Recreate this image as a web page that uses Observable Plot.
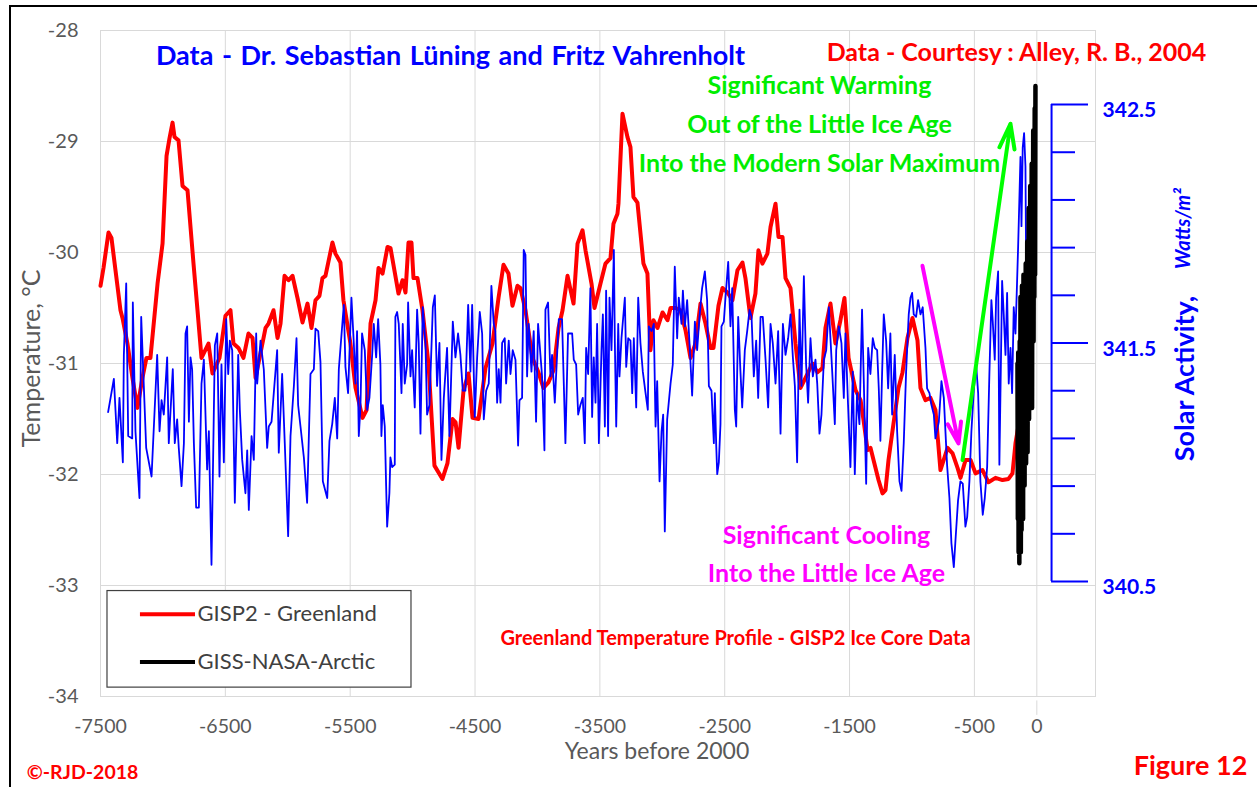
<!DOCTYPE html>
<html><head><meta charset="utf-8">
<script src="https://cdn.jsdelivr.net/npm/d3@7"></script>
<script src="https://cdn.jsdelivr.net/npm/@observablehq/plot@0.6"></script>
<style>
body{margin:0;background:#fff;}
#wrap{position:relative;width:1257px;height:787px;overflow:hidden;background:#fff;}
#wrap svg{position:absolute;left:0;top:0;}
#border{position:absolute;left:9px;top:5px;width:1400px;height:900px;border:2px solid #000;pointer-events:none;}
</style></head><body><div id="wrap"><div id="border"></div></div>
<script>
// GISP2 Greenland temperature (year before 2000, °C)
const gisp2 = [[-7500,-30.30],[-7476,-30.14],[-7436,-29.82],[-7412,-29.87],[-7380,-30.16],[-7340,-30.52],[-7324,-30.59],[-7284,-30.82],[-7244,-31.13],[-7204,-31.40],[-7164,-31.13],[-7132,-30.95],[-7100,-30.95],[-7043,-30.28],[-7003,-29.92],[-6971,-29.13],[-6947,-28.97],[-6923,-28.83],[-6907,-28.96],[-6875,-28.99],[-6843,-29.40],[-6803,-29.44],[-6755,-30.10],[-6723,-30.52],[-6691,-30.95],[-6635,-30.82],[-6603,-31.09],[-6547,-30.95],[-6499,-30.57],[-6459,-30.52],[-6435,-30.82],[-6395,-30.86],[-6355,-30.95],[-6315,-30.73],[-6282,-30.77],[-6258,-31.13],[-6178,-30.68],[-6154,-30.64],[-6114,-30.52],[-6082,-30.77],[-6058,-30.64],[-6026,-30.21],[-5994,-30.25],[-5962,-30.21],[-5922,-30.41],[-5882,-30.63],[-5842,-30.46],[-5810,-30.68],[-5778,-30.43],[-5746,-30.39],[-5722,-30.23],[-5698,-30.21],[-5642,-29.91],[-5618,-30.01],[-5578,-30.09],[-5554,-30.43],[-5498,-30.82],[-5457,-31.22],[-5401,-31.49],[-5369,-31.42],[-5337,-30.64],[-5297,-30.43],[-5273,-30.14],[-5241,-30.19],[-5201,-29.95],[-5177,-29.96],[-5113,-30.37],[-5081,-30.25],[-5057,-30.36],[-5033,-29.91],[-5009,-29.91],[-4993,-30.23],[-4961,-30.23],[-4921,-30.52],[-4873,-31.00],[-4825,-31.92],[-4761,-32.04],[-4721,-31.90],[-4680,-31.50],[-4656,-31.53],[-4632,-31.76],[-4592,-31.24],[-4552,-31.09],[-4520,-31.49],[-4472,-31.50],[-4416,-31.04],[-4360,-30.82],[-4312,-30.41],[-4272,-30.11],[-4232,-30.19],[-4200,-30.48],[-4160,-30.30],[-4136,-30.32],[-4096,-30.52],[-4040,-30.95],[-3992,-31.08],[-3952,-31.22],[-3912,-31.17],[-3871,-31.06],[-3831,-30.68],[-3799,-30.52],[-3759,-30.21],[-3711,-30.46],[-3679,-29.92],[-3639,-29.80],[-3615,-29.98],[-3567,-30.28],[-3543,-30.50],[-3495,-30.28],[-3455,-30.10],[-3415,-30.05],[-3391,-29.74],[-3359,-29.65],[-3351,-29.56],[-3319,-28.75],[-3279,-28.96],[-3255,-29.05],[-3231,-29.50],[-3199,-29.55],[-3151,-30.10],[-3119,-30.19],[-3095,-30.88],[-3071,-30.61],[-3038,-30.68],[-2998,-30.54],[-2958,-30.61],[-2934,-30.50],[-2894,-30.50],[-2854,-30.52],[-2814,-30.70],[-2774,-30.95],[-2734,-30.82],[-2694,-30.46],[-2654,-30.64],[-2614,-30.86],[-2590,-30.86],[-2550,-30.48],[-2518,-30.32],[-2478,-30.36],[-2438,-30.43],[-2398,-30.16],[-2358,-30.09],[-2334,-30.23],[-2294,-30.59],[-2254,-30.37],[-2230,-29.98],[-2198,-30.10],[-2158,-30.01],[-2133,-29.77],[-2093,-29.56],[-2069,-29.86],[-2037,-29.86],[-2013,-30.23],[-1973,-30.32],[-1933,-30.82],[-1893,-31.22],[-1853,-31.13],[-1797,-31.00],[-1757,-31.08],[-1717,-31.04],[-1693,-30.68],[-1653,-30.46],[-1613,-30.82],[-1573,-30.61],[-1541,-30.41],[-1508,-30.95],[-1452,-31.24],[-1412,-31.33],[-1388,-31.51],[-1356,-31.78],[-1332,-31.76],[-1308,-31.87],[-1268,-32.05],[-1236,-32.17],[-1212,-32.14],[-1188,-31.87],[-1148,-31.54],[-1108,-31.22],[-1076,-31.08],[-1036,-30.77],[-996,-30.59],[-956,-30.79],[-932,-31.22],[-892,-31.33],[-852,-31.31],[-812,-31.42],[-772,-31.96],[-715,-31.76],[-675,-31.81],[-635,-31.94],[-611,-32.03],[-571,-31.87],[-531,-31.87],[-491,-31.99],[-435,-31.96],[-387,-32.07],[-331,-32.03],[-275,-32.05],[-227,-32.04],[-195,-31.99],[-171,-31.72],[-147,-31.56]];

// Solar activity (year before 2000, W/m²)
const solar = [[-7439,341.21],[-7393,341.35],[-7366,341.08],[-7348,341.27],[-7321,341.00],[-7313,341.45],[-7294,341.75],[-7278,341.11],[-7246,341.10],[-7241,341.67],[-7220,341.13],[-7188,340.85],[-7174,341.61],[-7153,341.32],[-7134,341.06],[-7091,340.94],[-7046,341.45],[-7027,341.13],[-7011,341.26],[-6993,341.20],[-6966,341.44],[-6953,341.08],[-6921,341.39],[-6905,341.08],[-6886,341.18],[-6873,341.06],[-6851,340.90],[-6832,341.08],[-6819,341.54],[-6806,341.57],[-6792,341.17],[-6779,341.44],[-6766,341.39],[-6752,341.08],[-6734,340.81],[-6712,340.81],[-6691,341.33],[-6672,341.43],[-6646,340.97],[-6632,341.13],[-6611,340.57],[-6584,341.49],[-6565,341.54],[-6547,340.94],[-6531,341.41],[-6512,341.00],[-6493,341.60],[-6477,341.37],[-6464,341.51],[-6445,341.47],[-6424,340.83],[-6397,341.45],[-6384,341.22],[-6365,341.01],[-6339,340.87],[-6325,341.05],[-6312,340.80],[-6290,341.11],[-6272,341.01],[-6253,341.54],[-6245,341.33],[-6218,341.51],[-6192,341.39],[-6165,341.06],[-6152,341.15],[-6130,341.17],[-6112,341.29],[-6085,341.47],[-6072,341.04],[-6045,341.37],[-6024,341.08],[-5997,340.69],[-5978,341.11],[-5951,341.32],[-5930,341.52],[-5917,341.24],[-5898,341.15],[-5871,341.02],[-5845,340.83],[-5818,341.37],[-5791,341.39],[-5778,341.56],[-5756,341.55],[-5738,341.42],[-5719,340.92],[-5684,340.85],[-5666,341.09],[-5644,341.16],[-5623,341.27],[-5604,341.10],[-5591,341.39],[-5551,341.66],
[-5538,341.40],[-5517,341.29],[-5490,341.69],[-5471,341.50],[-5458,341.33],[-5445,341.55],[-5431,341.11],[-5418,341.23],[-5405,341.54],[-5383,341.47],[-5364,341.22],[-5346,341.27],[-5324,341.45],[-5311,341.58],[-5292,341.44],[-5276,341.60],[-5258,341.41],[-5250,341.11],[-5239,341.24],[-5223,341.15],[-5212,340.90],[-5204,340.73],[-5186,340.87],[-5178,341.02],[-5164,340.98],[-5143,340.99],[-5138,341.61],[-5124,341.63],[-5111,341.58],[-5089,341.29],[-5079,341.58],[-5063,341.33],[-5044,341.41],[-5036,341.67],[-5017,341.36],[-5004,341.47],[-4983,341.23],[-4964,341.64],[-4951,341.50],[-4937,341.12],[-4919,341.65],[-4897,341.50],[-4884,341.20],[-4865,341.24],[-4838,341.65],[-4822,341.70],[-4804,341.32],[-4785,341.50],[-4769,341.01],[-4750,341.27],[-4724,341.48],[-4705,341.11],[-4678,341.59],[-4657,341.44],[-4636,341.54],[-4617,341.45],[-4598,341.30],[-4577,341.30],[-4555,341.66],[-4537,341.38],[-4523,341.66],[-4502,341.19],[-4483,341.44],[-4462,341.63],[-4443,341.54],[-4430,341.18],[-4411,341.30],[-4390,341.33],[-4369,341.74],[-4350,341.58],[-4337,341.55],[-4323,341.25],[-4310,341.39],[-4296,341.25],[-4283,341.50],[-4262,341.52],[-4251,341.33],[-4230,341.51],[-4216,341.37],[-4198,341.47],[-4176,341.43],[-4155,341.07],[-4144,341.26],[-4123,341.27],[-4110,341.89],[-4096,341.87],[-4083,341.36],[-4070,341.58],[-4048,341.38],[-4030,341.55],[-4011,341.17],[-3995,341.58],[-3976,341.45],[-3963,341.36],[-3944,341.05],[-3936,341.64],[-3915,341.67],[-3896,341.36],[-3883,341.45],[-3861,341.25],[-3829,341.60],[-3803,341.60],[-3776,341.08],[-3755,341.54],[-3722,341.54],[-3709,341.43],[-3690,341.41],[-3674,341.20],[-3656,341.24],[-3637,341.27],[-3621,341.08],[-3610,341.48],[-3594,341.37],[-3576,341.73],[-3562,341.19],[-3549,341.44],
[-3535,341.25],[-3522,341.58],[-3508,341.08],[-3487,341.47],[-3476,341.62],[-3460,341.15],[-3450,341.72],[-3434,341.11],[-3423,341.69],[-3407,341.47],[-3388,341.89],[-3380,341.50],[-3369,341.15],[-3353,341.58],[-3343,341.36],[-3327,341.52],[-3300,341.69],[-3289,341.40],[-3273,341.52],[-3255,341.51],[-3241,341.29],[-3228,341.52],[-3209,341.23],[-3193,341.69],[-3175,341.50],[-3156,341.38],[-3134,341.29],[-3116,341.22],[-3108,341.57],[-3086,341.55],[-3068,341.58],[-3054,341.15],[-3041,341.34],[-3022,340.92],[-3006,341.13],[-2993,341.20],[-2980,340.71],[-2961,341.18],[-2934,341.33],[-2916,341.41],[-2900,341.82],[-2881,341.52],[-2868,341.69],[-2846,341.58],[-2835,341.72],[-2819,341.57],[-2801,341.68],[-2782,341.50],[-2761,341.28],[-2739,341.59],[-2721,341.47],[-2702,341.61],[-2681,341.73],[-2659,341.80],[-2641,341.68],[-2627,341.32],[-2606,341.30],[-2587,341.08],[-2579,341.29],[-2568,341.07],[-2560,340.95],[-2547,341.00],[-2534,341.16],[-2526,341.57],[-2507,341.59],[-2494,341.69],[-2472,341.84],[-2454,341.57],[-2440,341.73],[-2419,341.22],[-2408,341.15],[-2392,341.61],[-2374,341.38],[-2360,341.23],[-2339,341.47],[-2320,341.55],[-2301,341.64],[-2285,341.61],[-2267,341.36],[-2248,341.51],[-2232,341.27],[-2213,341.61],[-2195,341.61],[-2173,341.43],[-2152,341.23],[-2133,341.58],[-2115,341.50],[-2093,341.33],[-2072,341.55],[-2053,341.12],[-2034,341.58],[-2013,341.45],[-1992,341.52],[-1973,341.62],[-1954,341.44],[-1938,341.32],[-1920,341.00],[-1901,341.64],[-1885,341.32],[-1866,341.78],[-1848,341.41],[-1832,341.25],[-1813,341.52],[-1794,341.36],[-1773,341.43],[-1759,341.33],[-1741,341.12],[-1725,341.20],[-1706,341.43],[-1687,341.47],[-1666,341.65],[-1639,341.38],[-1618,341.16],[-1607,341.47],[-1586,341.57],[-1565,341.50],[-1546,341.27],
[-1533,341.54],[-1512,341.24],[-1493,340.98],[-1474,341.38],[-1458,340.95],[-1440,341.29],[-1421,341.16],[-1400,341.64],[-1386,341.34],[-1367,340.91],[-1351,341.48],[-1333,341.37],[-1314,341.52],[-1298,341.48],[-1279,341.47],[-1266,341.31],[-1253,341.09],[-1239,341.38],[-1226,341.62],[-1207,341.51],[-1191,341.31],[-1173,341.54],[-1159,341.20],[-1138,341.45],[-1119,341.13],[-1100,340.92],[-1084,340.88],[-1066,341.08],[-1047,341.38],[-1026,341.62],[-1012,341.69],[-999,341.71],[-986,341.62],[-967,341.61],[-951,341.68],[-932,341.62],[-914,341.65],[-892,341.48],[-879,341.31],[-860,341.29],[-844,341.24],[-825,341.20],[-812,341.10],[-785,341.17],[-764,341.34],[-745,341.27],[-719,340.99],[-700,340.85],[-684,340.66],[-665,340.56],[-652,340.67],[-631,340.84],[-612,340.92],[-593,340.91],[-572,340.73],[-558,340.77],[-540,340.92],[-524,341.13],[-505,341.30],[-486,341.41],[-470,341.29],[-452,340.92],[-433,340.78],[-417,340.85],[-398,340.98],[-380,341.37],[-364,341.68],[-353,341.59],[-337,341.43],[-326,341.69],[-310,341.80],[-300,340.99],[-289,341.37],[-278,341.76],[-265,341.62],[-251,341.45],[-238,341.71],[-225,341.33],[-211,341.48],[-198,341.29],[-185,341.65],[-171,341.54],[-158,341.76],[-150,341.90],[-139,342.12],[-131,342.28],[-123,341.99],[-113,342.32],[-102,342.38],[-91,342.24],[-86,341.85]];

// GISS-NASA Arctic (plotted on the temperature axis)
const giss = [[-155,-31.0],[-152,-32.4],[-149,-30.9],[-146,-32.7],[-143,-31.2],[-140,-32.8],[-137,-30.8],[-134,-32.6],[-131,-30.4],[-128,-32.7],[-125,-31.1],[-122,-32.5],[-119,-30.3],[-116,-32.3],[-113,-30.6],[-110,-32.4],[-107,-30.2],[-104,-31.9],[-101,-30.5],[-98,-32.1],[-95,-30.3],[-92,-31.7],[-89,-30.1],[-86,-31.9],[-83,-30.4],[-80,-31.6],[-77,-29.9],[-74,-31.8],[-71,-30.2],[-68,-31.4],[-65,-29.6],[-62,-31.5],[-59,-29.8],[-56,-31.2],[-53,-29.4],[-50,-31.3],[-47,-29.7],[-44,-30.9],[-41,-29.2],[-38,-31.4],[-35,-29.3],[-32,-30.6],[-29,-28.9],[-26,-30.8],[-23,-29.1],[-20,-30.4],[-17,-28.7],[-14,-30.2],[-11,-28.5]];

const xTicks = [-7500,-6500,-5500,-4500,-3500,-2500,-1500,-500,0];
const yTicks = [-34,-33,-32,-31,-30,-29,-28];
const solarTicks = [340.5,340.7,340.9,341.1,341.3,341.5,341.7,341.9,342.1,342.3,342.5];
const solarLabels = [340.5,341.5,342.5];
const legendItems = [{label:"GISP2 - Greenland", color:"#FF0000", y:-33.26},{label:"GISS-NASA-Arctic", color:"#000000", y:-33.69}];

// secondary (solar) axis overlaid on the temperature axis
const s2t = d3.scaleLinear([340.5, 342.5], [-32.964, -28.667]);
const axisYear = 118, minorEnd = 310, majorEnd = 414;

const green = "#00EE00", magenta = "#FF00FF", blue = "#0000FF", red = "#FF0000";
const bigNotes = [
  {text:"Data - Courtesy : Alley, R. B., 2004", x:-163, y:-28.20, c:red},
  {text:"Significant Warming", x:-1741, y:-28.50, c:green},
  {text:"Out of the Little Ice Age", x:-1741, y:-28.85, c:green},
  {text:"Into the Modern Solar Maximum", x:-1741, y:-29.20, c:green},
  {text:"Significant Cooling", x:-1685, y:-32.55, c:magenta},
  {text:"Into the Little Ice Age", x:-1685, y:-32.90, c:magenta}
];
const blueTitle = [{text:"Data - Dr. Sebastian Lüning and Fritz Vahrenholt", x:-4697, y:-28.23}];
const figNote = [{text:"Figure 12", x:1231, y:-34.63}];
const smallNotes = [
  {text:"Greenland Temperature Profile - GISP2 Ice Core Data", x:-2414, y:-33.48, s:20},
  {text:"©-RJD-2018", x:-7644, y:-34.69, s:19.5}
];
const coolArrow = [{x1:-916, y1:-30.12, x2:-627, y2:-31.72}];
const warmArrow = [{x1:-595, y1:-31.87, x2:-211, y2:-28.84}];

const font = "Lato, 'Open Sans', sans-serif";
const chart = Plot.plot({
  width: 1257, height: 787,
  marginLeft: 100, marginRight: 162, marginTop: 30, marginBottom: 91,
  x: {domain: [-7500, 470]},
  y: {domain: [-34, -28]},
  style: {fontFamily: font, background: "transparent", overflow: "visible"},
  marks: [
    Plot.gridX(xTicks, {stroke:"#d9d9d9", strokeOpacity:1}),
    Plot.gridY(yTicks, {stroke:"#d9d9d9", strokeOpacity:1}),
    Plot.frame({stroke:"#d9d9d9"}),
    Plot.ruleX([0], {y1:()=>-34.04, y2:()=>-34.17, stroke:"#d9d9d9"}),
    Plot.axisY(yTicks, {tickSize:0, tickPadding:22, fontSize:20, color:"#595959", label:null, tickFormat:d=>String(d)}),
    Plot.axisX(xTicks, {tickSize:0, tickPadding:23, fontSize:19.5, color:"#595959", label:null, tickFormat:d=>String(d)}),
    Plot.text(["Temperature, °C"], {frameAnchor:"left", textAnchor:"middle", dx:-69, dy:-5, rotate:-90, fontSize:25, fill:"#595959"}),
    Plot.text(["Years before 2000"], {frameAnchor:"bottom", textAnchor:"middle", dx:59, dy:62, fontSize:23, fill:"#595959"}),
    // data
    Plot.line(gisp2, {x:d=>d[0], y:d=>d[1], stroke:red, strokeWidth:4, strokeLinejoin:"round"}),
    Plot.line(solar, {x:d=>d[0], y:d=>s2t(d[1]), stroke:blue, strokeWidth:1.8, strokeLinejoin:"round"}),
    Plot.line(giss, {x:d=>d[0], y:d=>d[1], stroke:"#000", strokeWidth:4.5, strokeLinejoin:"round"}),
    // solar axis
    Plot.ruleX([axisYear], {y1:()=>s2t(340.5), y2:()=>s2t(342.5), stroke:blue, strokeWidth:2}),
    Plot.ruleY(solarTicks, {y:d=>s2t(d), x1:()=>axisYear, x2:d=>solarLabels.includes(d)?majorEnd:minorEnd, stroke:blue, strokeWidth:2}),
    Plot.text(solarLabels, {x:()=>axisYear, y:d=>s2t(d), text:d=>d.toFixed(1), dx:51, dy:6, textAnchor:"start", fill:blue, fontWeight:"bold", fontSize:21}),
    Plot.text(["Solar Activity,"], {frameAnchor:"right", textAnchor:"middle", dx:90, dy:15, rotate:-90, fontSize:27, fontWeight:"bold", fill:blue}),
    Plot.text(["Watts/m²"], {frameAnchor:"right", textAnchor:"middle", dx:88, dy:-135, rotate:-90, fontSize:20, fontWeight:"bold", fontStyle:"italic", fill:blue}),
    // arrows (headLength is relative to stroke width)
    Plot.arrow(coolArrow, {x1:"x1", y1:"y1", x2:"x2", y2:"y2", stroke:magenta, strokeWidth:4, headLength:8.25, headAngle:36}),
    Plot.arrow(warmArrow, {x1:"x1", y1:"y1", x2:"x2", y2:"y2", stroke:"#00FF00", strokeWidth:4, headLength:9.75, headAngle:34}),
    // annotations
    Plot.text(blueTitle, {x:"x", y:"y", text:"text", fill:blue, fontSize:27, fontWeight:"bold"}),
    Plot.text(bigNotes, {x:"x", y:"y", text:"text", fill:"c", fontSize:25, fontWeight:"bold"}),
    Plot.text(figNote, {x:"x", y:"y", text:"text", fill:red, fontSize:27, fontWeight:"bold"}),
    Plot.text(smallNotes, {x:"x", y:"y", text:"text", fill:red, fontSize:"s", fontWeight:"bold"}),
    // legend
    Plot.rect([0], {x1:()=>-7444, x2:()=>-5009, y1:()=>-33.05, y2:()=>-33.92, fill:"#fff", stroke:"#404040", strokeWidth:1.2}),
    Plot.ruleY(legendItems, {y:"y", x1:()=>-7180, x2:()=>-6739, stroke:"color", strokeWidth:4}),
    Plot.text(legendItems, {x:()=>-6723, y:"y", text:"label", textAnchor:"start", fontSize:22, fill:"#404040"})
  ]
});
d3.select(chart).selectAll("text")
  .filter(function(){ return this.textContent.startsWith("Data - Dr."); })
  .attr("word-spacing", "2px");
document.getElementById("wrap").prepend(chart);
</script>
</body></html>
